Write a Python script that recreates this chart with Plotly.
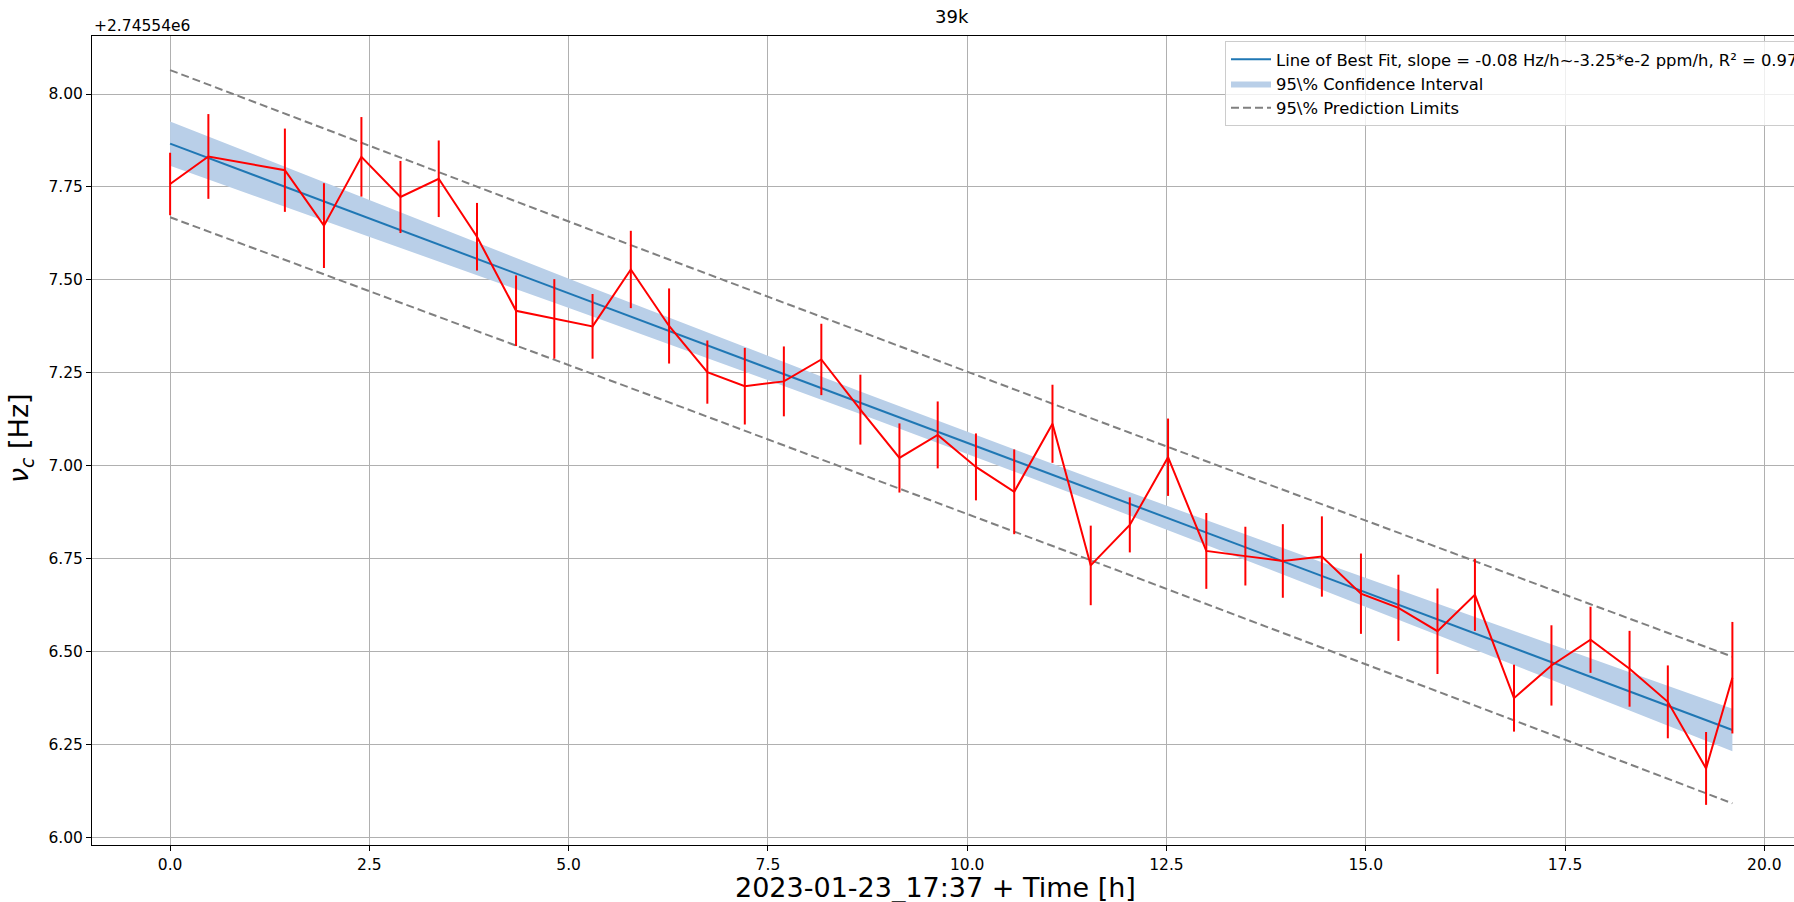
import numpy as np
import plotly.graph_objects as go

# ---------------- data ----------------
OFFSET_LABEL = "+2.74554e6"
title_text = "39k"
x_label = "2023-01-23_17:37 + Time [h]"
y_label = "<i>ν</i><sub><i>c</i></sub> [Hz]"
legend_fit = "Line of Best Fit, slope = -0.08 Hz/h~-3.25*e-2 ppm/h, R² = 0.97"
legend_ci = "95\\% Confidence Interval"
legend_pi = "95\\% Prediction Limits"

time_h = [0.00, 0.48, 1.44, 1.93, 2.40, 2.89, 3.37, 3.85, 4.34, 4.82,
          5.30, 5.78, 6.26, 6.74, 7.21, 7.70, 8.17, 8.66, 9.15, 9.63,
          10.11, 10.59, 11.07, 11.55, 12.04, 12.52, 13.00, 13.49, 13.96, 14.45,
          14.94, 15.41, 15.90, 16.37, 16.86, 17.33, 17.82, 18.31, 18.79, 19.27,
          19.60]
freq_off = [7.758, 7.832, 7.795, 7.646, 7.831, 7.723, 7.772, 7.616, 7.417, 7.395,
            7.375, 7.528, 7.376, 7.252, 7.214, 7.227, 7.286, 7.151, 7.021, 7.083,
            6.997, 6.930, 7.113, 6.732, 6.841, 7.023, 6.771, 6.757, 6.744, 6.756,
            6.656, 6.618, 6.555, 6.653, 6.375, 6.463, 6.532, 6.454, 6.365, 6.186,
            6.430]
freq_err = [0.084, 0.114, 0.112, 0.114, 0.107, 0.097, 0.103, 0.091, 0.095, 0.107,
            0.087, 0.104, 0.101, 0.085, 0.103, 0.094, 0.096, 0.094, 0.093, 0.090,
            0.090, 0.114, 0.105, 0.107, 0.074, 0.104, 0.102, 0.079, 0.099, 0.108,
            0.108, 0.089, 0.115, 0.097, 0.090, 0.108, 0.089, 0.102, 0.098, 0.098,
            0.150]

x_ticks = [0.0, 2.5, 5.0, 7.5, 10.0, 12.5, 15.0, 17.5, 20.0]
y_ticks = [6.00, 6.25, 6.50, 6.75, 7.00, 7.25, 7.50, 7.75, 8.00]

# ---------------- linear fit and bands ----------------
x = np.array(time_h)
y = np.array(freq_off)
n = len(x)
slope, intercept = np.polyfit(x, y, 1)
yfit = intercept + slope * x
s = np.sqrt(np.sum((y - yfit) ** 2) / (n - 2))
xm = x.mean()
sxx = np.sum((x - xm) ** 2)
T_CRIT = 2.023  # Student t, 95 %, n-2 dof
ci = T_CRIT * s * np.sqrt(1.0 / n + (x - xm) ** 2 / sxx)
pi = T_CRIT * s * np.sqrt(1.0 + 1.0 / n + (x - xm) ** 2 / sxx)

# ---------------- layout geometry (pixels) ----------------
W, H = 1794, 902
L, R, T, B = 92, 0, 36, 57
PW = W - L - R
PH = H - T - B


def px_x(px):
    return (px - L) / PW


def px_y(py):
    return (H - B - py) / PH


FONT = "DejaVu Sans"

fig = go.Figure()

# confidence band
fig.add_trace(go.Scatter(x=x, y=yfit - ci, mode="lines", line=dict(width=0, color="#b9cfe8"),
                         showlegend=False, hoverinfo="skip"))
fig.add_trace(go.Scatter(x=x, y=yfit + ci, mode="lines", line=dict(width=0, color="#b9cfe8"),
                         fill="tonexty", fillcolor="#b9cfe8", name=legend_ci, legendrank=2))
# prediction limits
fig.add_trace(go.Scatter(x=x, y=yfit + pi, mode="lines",
                         line=dict(color="#808080", width=2, dash="8px,4px"),
                         name=legend_pi, legendgroup="pi", legendrank=3))
fig.add_trace(go.Scatter(x=x, y=yfit - pi, mode="lines",
                         line=dict(color="#808080", width=2, dash="8px,4px"),
                         name=legend_pi, legendgroup="pi", showlegend=False))
# fit line
fig.add_trace(go.Scatter(x=x, y=yfit, mode="lines", line=dict(color="#1f77b4", width=2),
                         name=legend_fit, legendrank=1))
# data with error bars
fig.add_trace(go.Scatter(x=x, y=y, mode="lines", line=dict(color="red", width=2),
                         error_y=dict(type="data", array=freq_err, color="red", thickness=2, width=0),
                         showlegend=False))

fig.update_layout(
    width=W, height=H,
    margin=dict(l=L, r=R, t=T, b=B, pad=0, autoexpand=False),
    paper_bgcolor="white", plot_bgcolor="white",
    font=dict(family=FONT, size=15, color="black"),
    showlegend=True,
    legend=dict(x=px_x(1225), y=px_y(41), xanchor="left", yanchor="top",
                bgcolor="rgba(255,255,255,0.8)", bordercolor="#cccccc", borderwidth=1,
                font=dict(family=FONT, size=16.4, color="black"), itemwidth=40,
                traceorder="normal"),
    xaxis=dict(range=[-0.98, 20.373], tickvals=x_ticks, tickformat=".1f",
               showgrid=True, gridcolor="#b0b0b0", gridwidth=1,
               showline=True, linecolor="black", linewidth=1, mirror=True,
               ticks="outside", ticklen=5, tickcolor="black", tickwidth=1,
               zeroline=False, tickfont=dict(family=FONT, size=15.5, color="black")),
    yaxis=dict(range=[5.980, 8.156], tickvals=y_ticks, tickformat=".2f",
               showgrid=True, gridcolor="#b0b0b0", gridwidth=1,
               showline=True, linecolor="black", linewidth=1, mirror=False,
               ticks="outside", ticklen=5, tickcolor="black", tickwidth=1,
               zeroline=False, tickfont=dict(family=FONT, size=15.5, color="black")),
    annotations=[
        dict(text=title_text, x=px_x(951.5), y=px_y(17), xref="paper", yref="paper",
             xanchor="center", yanchor="middle", showarrow=False,
             font=dict(family=FONT, size=18, color="black")),
        dict(text=OFFSET_LABEL, x=px_x(92), y=px_y(26), xref="paper", yref="paper",
             xanchor="left", yanchor="middle", showarrow=False,
             font=dict(family=FONT, size=15.5, color="black")),
        dict(text=x_label, x=px_x(935), y=px_y(887), xref="paper", yref="paper",
             xanchor="center", yanchor="middle", showarrow=False,
             font=dict(family=FONT, size=27, color="black")),
        dict(text=y_label, x=px_x(20), y=px_y(438), xref="paper", yref="paper",
             xanchor="center", yanchor="middle", showarrow=False, textangle=-90,
             font=dict(family=FONT, size=27, color="black")),
    ],
)

fig.write_html("out.html")
